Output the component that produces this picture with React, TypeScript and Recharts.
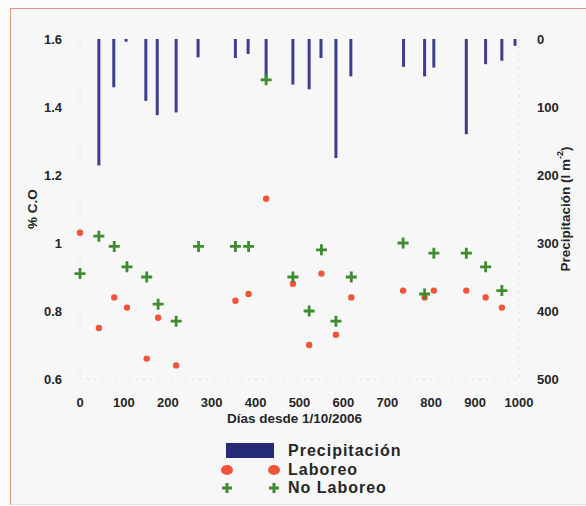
import React from 'react';
import { ComposedChart, Bar, Scatter, XAxis, YAxis } from 'recharts';

// Precipitation events (days since 1/10/2006, l m-2)
const precipDays = [43, 77, 105, 150, 176, 219, 269, 354, 383, 424, 485, 522, 549, 583, 617, 737, 785, 806, 880, 924, 961, 991];
const precipValues = [186, 71, 4, 91, 112, 108, 27, 28, 22, 62, 67, 74, 28, 175, 55, 41, 55, 42, 140, 37, 32, 10];

// % C.O, Laboreo
const laboreoDays = [0, 43, 78, 107, 152, 178, 219, 354, 384, 424, 485, 522, 550, 583, 618, 736, 785, 806, 880, 924, 961];
const laboreoValues = [1.03, 0.75, 0.84, 0.81, 0.66, 0.78, 0.64, 0.83, 0.85, 1.13, 0.88, 0.70, 0.91, 0.73, 0.84, 0.86, 0.84, 0.86, 0.86, 0.84, 0.81];

// % C.O, No Laboreo
const noLaboreoDays = [0, 43, 78, 107, 152, 178, 219, 270, 354, 384, 424, 485, 522, 550, 583, 618, 736, 785, 806, 880, 924, 961];
const noLaboreoValues = [0.91, 1.02, 0.99, 0.93, 0.90, 0.82, 0.77, 0.99, 0.99, 0.99, 1.48, 0.90, 0.80, 0.98, 0.77, 0.90, 1.00, 0.85, 0.97, 0.97, 0.93, 0.86];

const xTicks = [0, 100, 200, 300, 400, 500, 600, 700, 800, 900, 1000];
const leftTicks = [0.6, 0.8, 1, 1.2, 1.4, 1.6];
const rightTicks = [0, 100, 200, 300, 400, 500];

const precipData = precipDays.map((d, i) => ({ day: d, precip: precipValues[i] }));
const laboreoData = laboreoDays.map((d, i) => ({ day: d, co: laboreoValues[i] }));
const noLaboreoData = noLaboreoDays.map((d, i) => ({ day: d, co: noLaboreoValues[i] }));

const FONT = 'Arial, "Liberation Sans", Helvetica, sans-serif';
const TEXT = '#262626';
const BAR = '#3f3d92';
const RED = '#f2543a';
const GREEN = '#3e8c2f';

const tickStyle = { fontFamily: FONT, fontSize: 13, fontWeight: 700, fill: TEXT };
const faintAxis = { stroke: '#dedede', strokeDasharray: '2 5' };

const RedDot = (props: any) => {
  const { cx, cy } = props;
  if (cx == null || cy == null) return null;
  return <circle cx={cx} cy={cy} r={3.2} fill={RED} />;
};

const GreenPlus = (props: any) => {
  const { cx, cy } = props;
  if (cx == null || cy == null) return null;
  return (
    <path
      d={`M${cx - 5.5},${cy}H${cx + 5.5}M${cx},${cy - 5.5}V${cy + 5.5}`}
      stroke={GREEN}
      strokeWidth={2.8}
      fill="none"
    />
  );
};

const PrecipBar = (props: any) => {
  const { x, y, width, height } = props;
  if (x == null || y == null) return null;
  const cx = x + (width || 0) / 2;
  const top = height < 0 ? y + height : y;
  const h = Math.abs(height || 0);
  return <rect x={cx - 1.5} y={top} width={3} height={h} fill={BAR} />;
};

const LeftTitle = (props: any) => {
  const vb = props.viewBox || {};
  const cx = (vb.x ?? 0) + 32;
  const cy = (vb.y ?? 0) + (vb.height ?? 0) / 2;
  return (
    <text x={cx} y={cy} transform={`rotate(-90 ${cx} ${cy})`} textAnchor="middle" dominantBaseline="central"
      style={{ fontFamily: FONT, fontSize: 13.5, fontWeight: 700, fill: TEXT }}>
      % C.O
    </text>
  );
};

const RightTitle = (props: any) => {
  const vb = props.viewBox || {};
  const cx = (vb.x ?? 0) + 46;
  const cy = (vb.y ?? 0) + (vb.height ?? 0) / 2;
  return (
    <text x={cx} y={cy} transform={`rotate(-90 ${cx} ${cy})`} textAnchor="middle" dominantBaseline="central"
      style={{ fontFamily: FONT, fontSize: 13.5, fontWeight: 700, fill: TEXT }}>
      Precipitación (l m<tspan dy={-5} fontSize={9}>-2</tspan><tspan dy={5}>)</tspan>
    </text>
  );
};

const BottomTitle = (props: any) => {
  const vb = props.viewBox || {};
  const cx = (vb.x ?? 0) + (vb.width ?? 0) / 2 - 5;
  const cy = (vb.y ?? 0) + 39;
  return (
    <text x={cx} y={cy} textAnchor="middle" dominantBaseline="central"
      style={{ fontFamily: FONT, fontSize: 13.5, fontWeight: 700, fill: TEXT }}>
      Días desde 1/10/2006
    </text>
  );
};

const legendText: React.CSSProperties = {
  position: 'absolute',
  left: 288,
  fontFamily: FONT,
  fontSize: 16,
  fontWeight: 700,
  letterSpacing: 1,
  color: TEXT,
  lineHeight: '18px',
  whiteSpace: 'nowrap',
};

const LegendPlus = ({ x, y }: { x: number; y: number }) => (
  <svg style={{ position: 'absolute', left: x - 7, top: y - 7 }} width={14} height={14}>
    <path d="M2,7H12M7,2V12" stroke={GREEN} strokeWidth={3} />
  </svg>
);

const LegendDot = ({ x, y }: { x: number; y: number }) => (
  <div style={{ position: 'absolute', left: x - 6, top: y - 5, width: 12, height: 10, borderRadius: '50%', background: RED }} />
);

export default function App() {
  return (
    <div style={{ position: 'absolute', left: 0, top: 0, width: 586, height: 506, background: '#fbfbfb', overflow: 'hidden' }}>
      <div style={{ position: 'absolute', left: 10, top: 8, width: 590, height: 495, borderLeft: '1.5px solid #e0968a', borderTop: '1.5px solid #e0968a', borderBottom: '1px solid #e2e2e6', background: '#f7f7f7' }} />
      <div style={{ position: 'absolute', left: 0, top: 0 }}>
        <ComposedChart width={586} height={506} data={precipData} margin={{ top: 39, right: 0, bottom: 77, left: 0 }}>
          <XAxis
            dataKey="day"
            type="number"
            domain={[0, 1000]}
            ticks={xTicks}
            interval={0}
            axisLine={faintAxis}
            tickLine={false}
            tickSize={0}
            tickMargin={19}
            tick={tickStyle}
            height={50}
            label={<BottomTitle />}
          />
          <YAxis
            yAxisId="left"
            orientation="left"
            type="number"
            domain={[0.6, 1.6]}
            ticks={leftTicks}
            interval={0}
            width={80}
            axisLine={faintAxis}
            tickLine={false}
            tickSize={0}
            tickMargin={18}
            tick={tickStyle}
            label={<LeftTitle />}
          />
          <YAxis
            yAxisId="right"
            orientation="right"
            type="number"
            domain={[0, 500]}
            reversed
            ticks={rightTicks}
            interval={0}
            width={67}
            axisLine={faintAxis}
            tickLine={false}
            tickSize={0}
            tickMargin={18}
            tick={tickStyle}
            label={<RightTitle />}
          />
          <Bar yAxisId="right" dataKey="precip" fill={BAR} barSize={3} shape={<PrecipBar />} isAnimationActive={false} />
          <Scatter yAxisId="left" data={laboreoData} dataKey="co" shape={<RedDot />} isAnimationActive={false} />
          <Scatter yAxisId="left" data={noLaboreoData} dataKey="co" shape={<GreenPlus />} isAnimationActive={false} />
        </ComposedChart>
      </div>
      <div style={{ position: 'absolute', left: 226, top: 443, width: 48, height: 15, background: '#252a78' }} />
      <div style={{ ...legendText, top: 442 }}>Precipitación</div>
      <LegendDot x={227} y={470} />
      <LegendDot x={274} y={470} />
      <div style={{ ...legendText, top: 461 }}>Laboreo</div>
      <LegendPlus x={227} y={488} />
      <LegendPlus x={274} y={488} />
      <div style={{ ...legendText, top: 479 }}>No Laboreo</div>
    </div>
  );
}
